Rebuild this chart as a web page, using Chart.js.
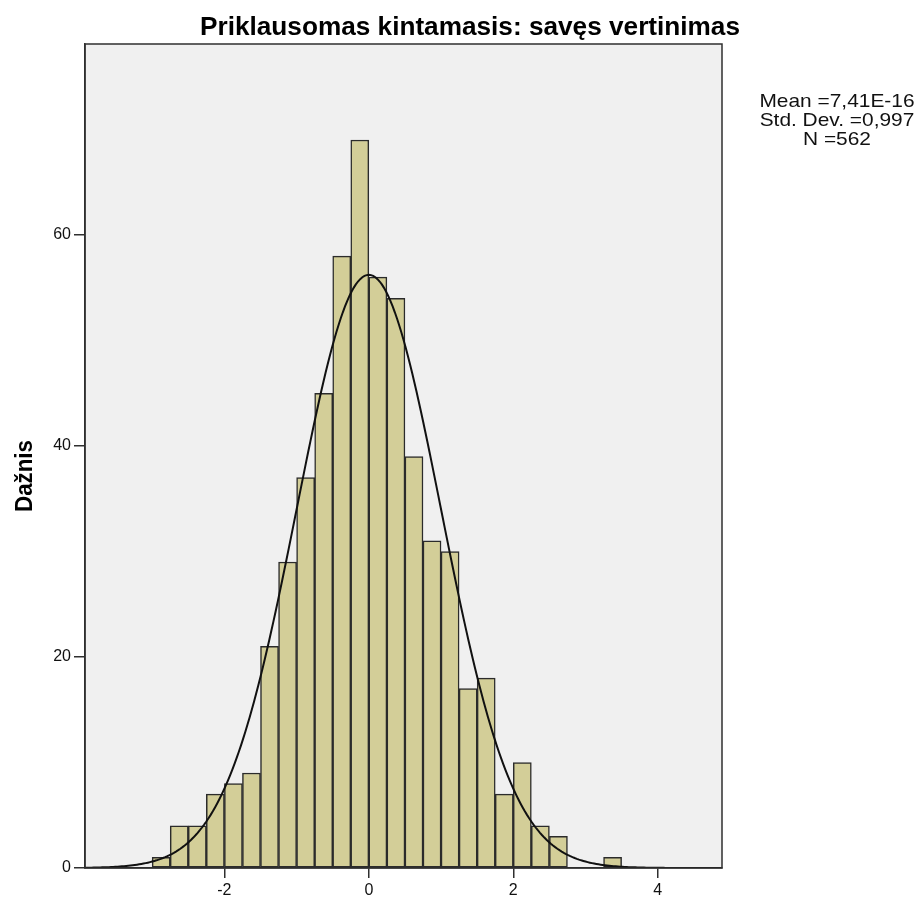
<!DOCTYPE html>
<html>
<head>
<meta charset="utf-8">
<script src="https://cdn.jsdelivr.net/npm/chart.js@4.4.1/dist/chart.umd.min.js"></script>
<style>
  html, body { margin: 0; padding: 0; background: #fff; }
  #wrap { width: 922px; height: 906px; }
</style>
</head>
<body>
<div id="wrap"><canvas id="histChart"></canvas></div>
<script>
// histogram bins (left edges), bin width 0.25
var binStarts = [-3, -2.75, -2.5, -2.25, -2, -1.75, -1.5, -1.25, -1, -0.75, -0.5, -0.25,
                 0, 0.25, 0.5, 0.75, 1, 1.25, 1.5, 1.75, 2, 2.25, 2.5, 2.75, 3, 3.25];
var binWidth = 0.25;
var counts = [1, 4, 4, 7, 8, 9, 21, 29, 37, 45, 58, 69,
              56, 54, 39, 31, 30, 17, 18, 7, 10, 4, 3, 0, 0, 1];

var xTicks = [-2, 0, 2, 4];
var yTicks = [0, 20, 40, 60];
var xMin = -3.93, xMax = 4.89;
var yMax = 78.1;

var titleText = 'Priklausomas kintamasis: savęs vertinimas';
var yTitle = 'Dažnis';
var statsLines = ['Mean =7,41E-16', 'Std. Dev. =0,997', 'N =562'];
var meanVal = 7.41e-16, sdVal = 0.997, nVal = 562;

// bars
var barPoints = binStarts.map(function (s, i) {
    return { x: s + binWidth / 2, y: counts[i] > 0 ? counts[i] : null };
});

// normal curve from the stated mean / sd / N
var curvePoints = [];
for (var x = xMin; x <= xMax + 1e-9; x += 0.03) {
    var z = (x - meanVal) / sdVal;
    curvePoints.push({ x: x, y: nVal * binWidth * Math.exp(-0.5 * z * z) / (sdVal * Math.sqrt(2 * Math.PI)) });
}

var frameColor = '#2f2f2f';

// draws text squeezed/stretched to a given width (SPSS uses a narrow bold face)
function fitText(ctx, text, x, y, width) {
    var w = ctx.measureText(text).width;
    ctx.save();
    ctx.translate(x, y);
    ctx.scale(width / w, 1);
    ctx.fillText(text, 0, 0);
    ctx.restore();
}

var spssPlugin = {
    id: 'spssFrame',
    beforeDraw: function (chart) {
        var ctx = chart.ctx, a = chart.chartArea;
        ctx.save();
        ctx.fillStyle = '#ffffff';
        ctx.fillRect(0, 0, chart.width, chart.height);
        ctx.fillStyle = '#f0f0f0';
        ctx.fillRect(a.left, a.top, a.right - a.left, a.bottom - a.top);
        ctx.restore();
    },
    afterDraw: function (chart) {
        var ctx = chart.ctx, a = chart.chartArea;
        ctx.save();
        ctx.strokeStyle = frameColor;
        ctx.lineWidth = 1.5;
        ctx.strokeRect(a.left, a.top, a.right - a.left, a.bottom - a.top);

        // title
        ctx.fillStyle = '#000';
        ctx.textAlign = 'left';
        ctx.textBaseline = 'alphabetic';
        ctx.font = 'bold 25px "Liberation Sans", Arial, sans-serif';
        fitText(ctx, titleText, 200, 35, 540);

        // stats box
        ctx.textAlign = 'center';
        ctx.textBaseline = 'alphabetic';
        ctx.font = '19px "Liberation Sans", Arial, sans-serif';
        ctx.fillStyle = '#111';
        statsLines.forEach(function (t, i) {
            var w = ctx.measureText(t).width * 1.1;
            ctx.save();
            ctx.translate(837, 107 + i * 19);
            ctx.scale(1.1, 1);
            ctx.fillText(t, 0, 0);
            ctx.restore();
        });

        // y axis title
        ctx.translate(32, 512);
        ctx.rotate(-Math.PI / 2);
        ctx.fillStyle = '#000';
        ctx.textAlign = 'left';
        ctx.textBaseline = 'alphabetic';
        ctx.font = 'bold 23px "Liberation Sans", Arial, sans-serif';
        fitText(ctx, yTitle, 0, 0, 72);
        ctx.restore();
    }
};

var ctx = document.getElementById('histChart').getContext('2d');
var histChart = new Chart(ctx, {
    type: 'bar',
    data: {
        datasets: [{
            type: 'line',
            data: curvePoints,
            borderColor: '#111',
            borderWidth: 2,
            pointRadius: 0,
            fill: false,
            tension: 0,
            order: 0
        }, {
            type: 'bar',
            data: barPoints,
            backgroundColor: '#d3ce98',
            borderColor: '#2b2b2b',
            borderWidth: 1.5,
            borderSkipped: false,
            barPercentage: 1,
            categoryPercentage: 1,
            order: 1
        }]
    },
    options: {
        responsive: true,
        maintainAspectRatio: false,
        animation: false,
        layout: { padding: { top: 44, right: 200, left: 0, bottom: 0 } },
        plugins: { legend: { display: false }, tooltip: { enabled: false } },
        scales: {
            x: {
                type: 'linear',
                min: xMin,
                max: xMax,
                offset: false,
                grid: { display: true, offset: false, drawOnChartArea: false, drawTicks: true, tickLength: 10, color: frameColor, lineWidth: 1.5 },
                border: { display: true, color: frameColor, width: 1.5 },
                ticks: { color: '#111', font: { family: '"Liberation Sans", Arial, sans-serif', size: 16 }, padding: 3, maxRotation: 0 },
                afterBuildTicks: function (scale) {
                    scale.ticks = xTicks.map(function (v) { return { value: v }; });
                },
                afterFit: function (scale) { scale.height = 38; }
            },
            y: {
                type: 'linear',
                min: 0,
                max: yMax,
                grid: { display: true, drawOnChartArea: false, drawTicks: true, tickLength: 11, color: frameColor, lineWidth: 1.5 },
                border: { display: true, color: frameColor, width: 1.5 },
                ticks: { color: '#111', font: { family: '"Liberation Sans", Arial, sans-serif', size: 16 }, padding: 3 },
                afterBuildTicks: function (scale) {
                    scale.ticks = yTicks.map(function (v) { return { value: v }; });
                },
                afterFit: function (scale) { scale.width = 85; }
            }
        }
    },
    plugins: [spssPlugin]
});
</script>
</body>
</html>
